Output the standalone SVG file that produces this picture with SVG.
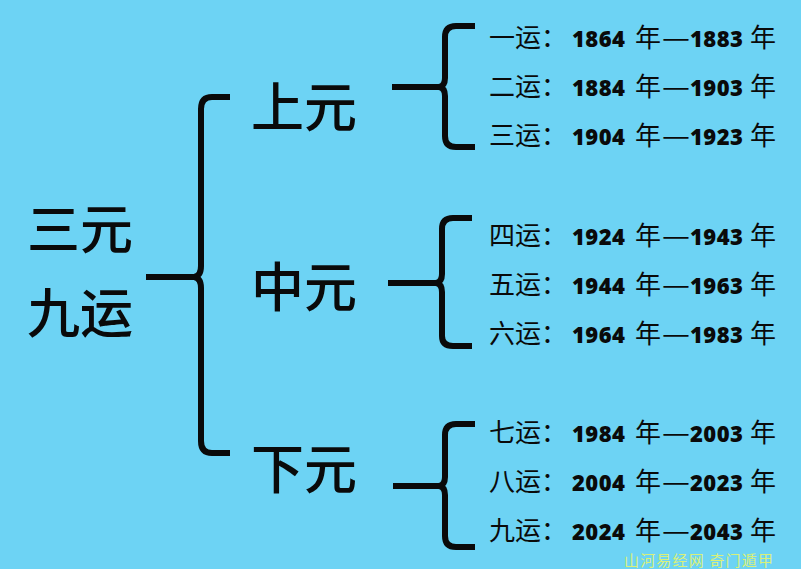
<svg xmlns="http://www.w3.org/2000/svg" width="801" height="569" viewBox="0 0 801 569">
<style>
.br{fill:none;stroke:#0a0a0a;stroke-width:6;stroke-linejoin:round;stroke-linecap:butt}
.big{font-family:"Noto Sans CJK SC","Noto Sans CJK JP",sans-serif;font-size:53px;font-weight:500;fill:#0a0a0a}
.ln{font-family:"Noto Sans CJK SC","Noto Sans CJK JP",sans-serif;font-size:26px;fill:#0a0a0a}
.d{font-family:"Open Sans","DejaVu Sans",sans-serif;font-weight:800;font-size:22px}
.wm{font-family:"Noto Sans CJK SC",sans-serif;font-size:15px;fill:#d9f07a}
</style>
<rect x="0" y="0" width="801" height="569" fill="#6dd3f4"/>
<g id="connectors">
<path class="br" d="M230,97 H212 Q201,97 201,109 V266 Q201,276 194,277 H146 M194,277 Q201,278 201,288 V441 Q201,453 212,453 H230"/>
<path class="br" d="M475,26 H456 Q445,26 445,37 V78 Q445,86 439,87 H392 M439,87 Q445,88 445,96 V136 Q445,147 456,147 H475"/>
<path class="br" d="M472,218 H453 Q442,218 442,229 V274 Q442,282 436,283 H388 M436,283 Q442,284 442,292 V336 Q442,346 453,346 H472"/>
<path class="br" d="M475,424 H456 Q445,424 445,435 V477 Q445,485 439,486 H393 M439,486 Q445,487 445,495 V536 Q445,547 456,547 H475"/>
</g>
<g id="root"><text class="big" x="27" y="249" textLength="106">三元</text><text class="big" x="27" y="333" textLength="106">九运</text></g>
<g id="shangyuan"><text class="big" x="251" y="127" textLength="106">上元</text></g>
<g id="zhongyuan"><text class="big" x="251" y="307" textLength="106">中元</text></g>
<g id="xiayuan"><text class="big" x="251" y="489" textLength="106">下元</text></g>
<g id="yun1"><text class="ln" y="47"><tspan x="489">一运：</tspan><tspan class="d" x="572" textLength="53">1864</tspan><tspan x="635">年</tspan><tspan x="662" textLength="28" lengthAdjust="spacingAndGlyphs">—</tspan><tspan class="d" x="690" textLength="53">1883</tspan><tspan x="750">年</tspan></text></g>
<g id="yun2"><text class="ln" y="96"><tspan x="489">二运：</tspan><tspan class="d" x="572" textLength="53">1884</tspan><tspan x="635">年</tspan><tspan x="662" textLength="28" lengthAdjust="spacingAndGlyphs">—</tspan><tspan class="d" x="690" textLength="53">1903</tspan><tspan x="750">年</tspan></text></g>
<g id="yun3"><text class="ln" y="145"><tspan x="489">三运：</tspan><tspan class="d" x="572" textLength="53">1904</tspan><tspan x="635">年</tspan><tspan x="662" textLength="28" lengthAdjust="spacingAndGlyphs">—</tspan><tspan class="d" x="690" textLength="53">1923</tspan><tspan x="750">年</tspan></text></g>
<g id="yun4"><text class="ln" y="245"><tspan x="489">四运：</tspan><tspan class="d" x="572" textLength="53">1924</tspan><tspan x="635">年</tspan><tspan x="662" textLength="28" lengthAdjust="spacingAndGlyphs">—</tspan><tspan class="d" x="690" textLength="53">1943</tspan><tspan x="750">年</tspan></text></g>
<g id="yun5"><text class="ln" y="294"><tspan x="489">五运：</tspan><tspan class="d" x="572" textLength="53">1944</tspan><tspan x="635">年</tspan><tspan x="662" textLength="28" lengthAdjust="spacingAndGlyphs">—</tspan><tspan class="d" x="690" textLength="53">1963</tspan><tspan x="750">年</tspan></text></g>
<g id="yun6"><text class="ln" y="343"><tspan x="489">六运：</tspan><tspan class="d" x="572" textLength="53">1964</tspan><tspan x="635">年</tspan><tspan x="662" textLength="28" lengthAdjust="spacingAndGlyphs">—</tspan><tspan class="d" x="690" textLength="53">1983</tspan><tspan x="750">年</tspan></text></g>
<g id="yun7"><text class="ln" y="442"><tspan x="489">七运：</tspan><tspan class="d" x="572" textLength="53">1984</tspan><tspan x="635">年</tspan><tspan x="662" textLength="28" lengthAdjust="spacingAndGlyphs">—</tspan><tspan class="d" x="690" textLength="53">2003</tspan><tspan x="750">年</tspan></text></g>
<g id="yun8"><text class="ln" y="491"><tspan x="489">八运：</tspan><tspan class="d" x="572" textLength="53">2004</tspan><tspan x="635">年</tspan><tspan x="662" textLength="28" lengthAdjust="spacingAndGlyphs">—</tspan><tspan class="d" x="690" textLength="53">2023</tspan><tspan x="750">年</tspan></text></g>
<g id="yun9"><text class="ln" y="540"><tspan x="489">九运：</tspan><tspan class="d" x="572" textLength="53">2024</tspan><tspan x="635">年</tspan><tspan x="662" textLength="28" lengthAdjust="spacingAndGlyphs">—</tspan><tspan class="d" x="690" textLength="53">2043</tspan><tspan x="750">年</tspan></text></g>
<text class="wm" x="624" y="566" textLength="149">山河易经网 奇门遁甲</text>
</svg>
